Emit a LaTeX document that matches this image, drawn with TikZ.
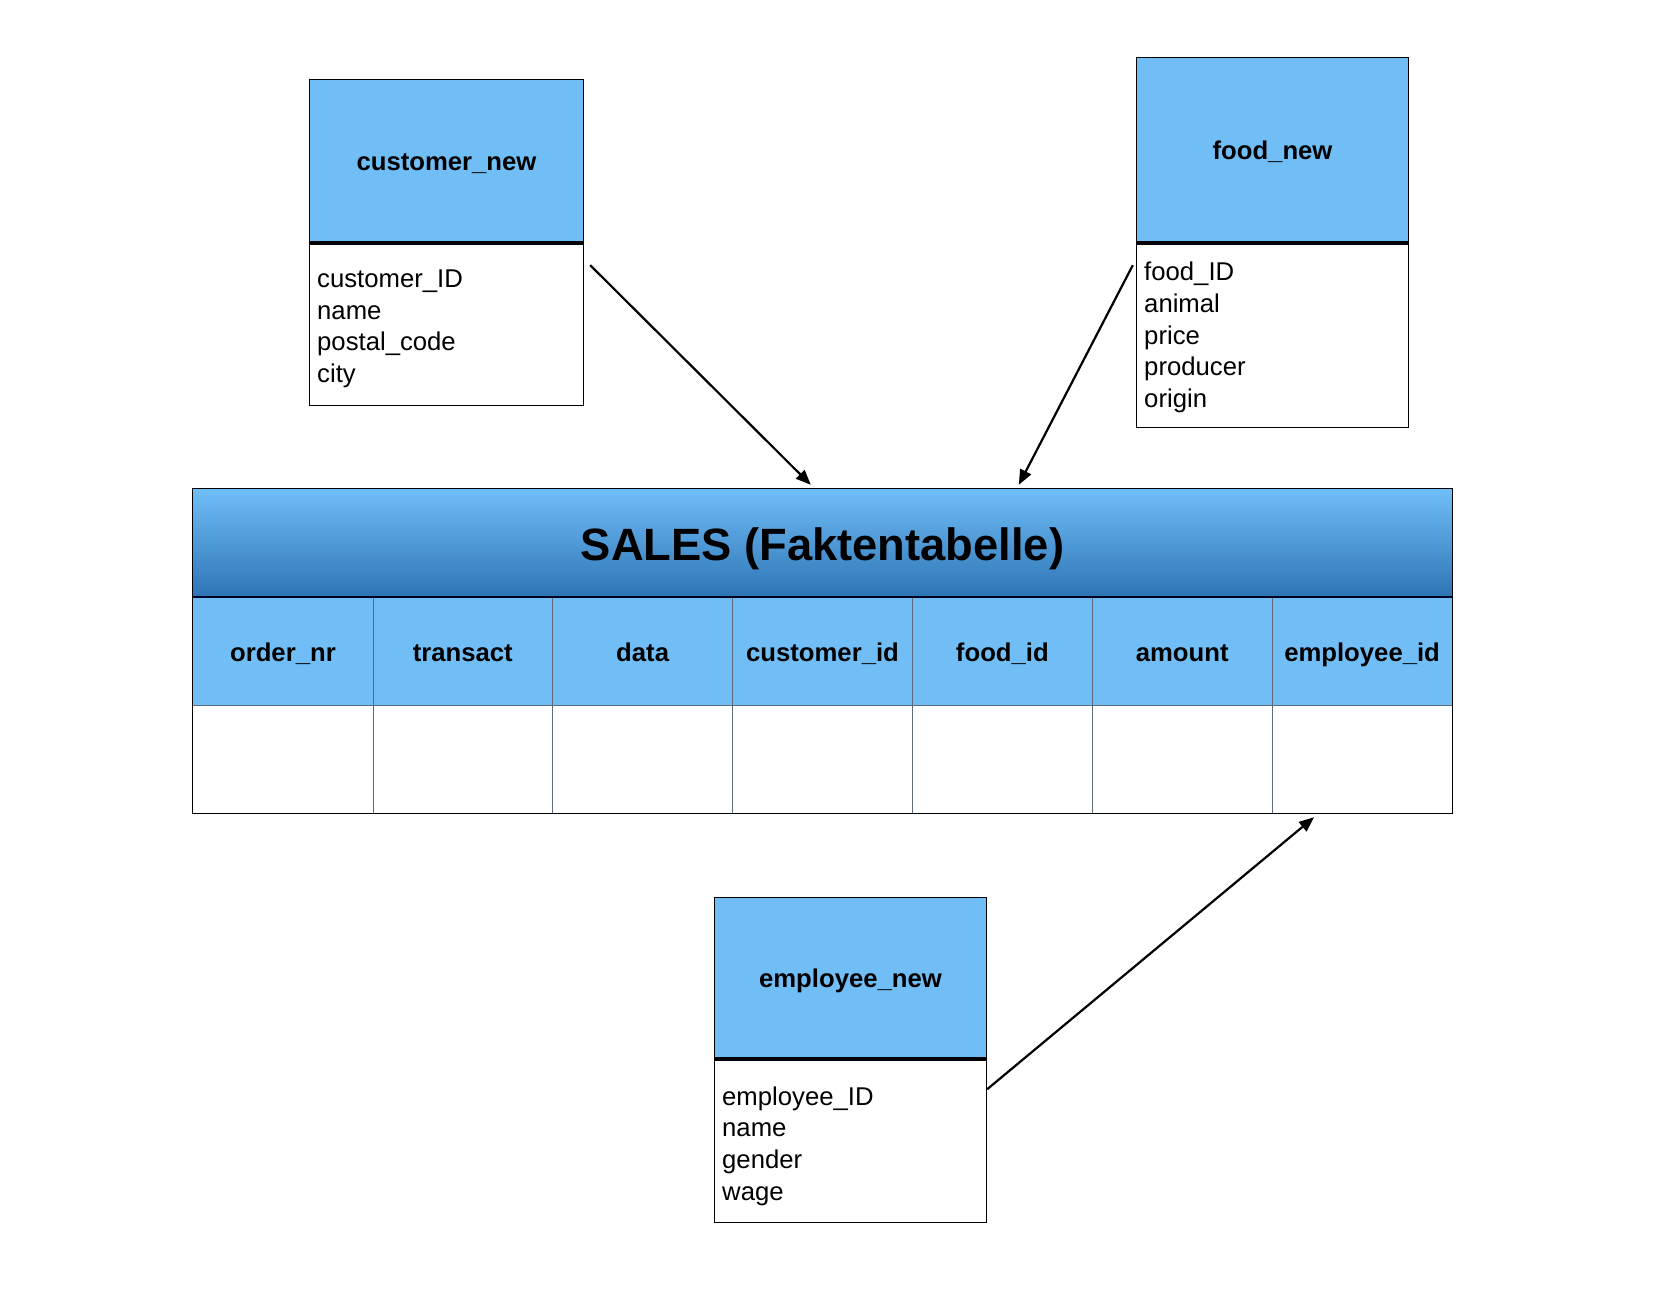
\documentclass[tikz,border=0pt]{standalone}
\usepackage{fontspec}
\setmainfont{Liberation Sans}
\usetikzlibrary{arrows.meta,calc}
\definecolor{lb}{HTML}{71BEF7}
\definecolor{gtop}{HTML}{70BEF7}
\definecolor{gbot}{HTML}{2E74B5}
\definecolor{divc}{HTML}{5B6B7C}
\tikzset{
  head/.style={fill=lb, inner sep=0pt, text height=18.5pt, text depth=0pt, font=\fontsize{25.7}{31.7}\selectfont\bfseries},
  body/.style={fill=white, inner sep=0pt},
  attr/.style={anchor=base west, inner sep=0pt, font=\fontsize{25.7}{31.7}\selectfont},
  frame/.style={draw=black, line width=1.3pt},
  sepline/.style={line width=4pt, draw=black},
  colhead/.style={fill=lb, inner sep=0pt, minimum width=179.86pt, minimum height=108pt, text height=21pt, text depth=0pt, font=\fontsize{25.7}{31.7}\selectfont\bfseries},
  colcell/.style={fill=white, inner sep=0pt, minimum width=179.86pt, minimum height=108pt},
  divline/.style={draw=divc, line width=1pt},
  conn/.style={line width=2.2pt, -{Triangle[length=15pt,width=12pt]}},
}
\begin{document}
\begin{tikzpicture}[x=1pt,y=-1pt]
\useasboundingbox (0,0) rectangle (1662,1308);

% customer_new
\node[head, minimum width=273pt, minimum height=163pt] (custhead) at (446.5,161.5) {customer\_new};
\node[body, minimum width=273pt, minimum height=162pt, anchor=north] (custbody) at (custhead.south) {};
\draw[frame] (custhead.north west) rectangle (custbody.south east);
\draw[sepline] (custhead.south west) -- (custhead.south east);
\node[attr] (c1) at (317,287.5) {customer\_ID};
\node[attr] (c2) at (317,319.2) {name};
\node[attr] (c3) at (317,350.9) {postal\_code};
\node[attr] (c4) at (317,382.5) {city};

% food_new
\node[head, minimum width=271pt, minimum height=185pt] (foodhead) at (1272.5,150.5) {food\_new};
\node[body, minimum width=271pt, minimum height=184pt, anchor=north] (foodbody) at (foodhead.south) {};
\draw[frame] (foodhead.north west) rectangle (foodbody.south east);
\draw[sepline] (foodhead.south west) -- (foodhead.south east);
\node[attr] (f1) at (1144,280.5) {food\_ID};
\node[attr] (f2) at (1144,312.25) {animal};
\node[attr] (f3) at (1144,344) {price};
\node[attr] (f4) at (1144,375.75) {producer};
\node[attr] (f5) at (1144,407.5) {origin};

% employee_new
\node[head, minimum width=271pt, minimum height=161pt] (emphead) at (850.5,978.5) {employee\_new};
\node[body, minimum width=271pt, minimum height=163pt, anchor=north] (empbody) at (emphead.south) {};
\draw[frame] (emphead.north west) rectangle (empbody.south east);
\draw[sepline] (emphead.south west) -- (emphead.south east);
\node[attr] (e1) at (722,1105) {employee\_ID};
\node[attr] (e2) at (722,1136.7) {name};
\node[attr] (e3) at (722,1168.4) {gender};
\node[attr] (e4) at (722,1200) {wage};

% SALES table
\node[inner sep=0pt, minimum width=1259pt, minimum height=108pt, top color=gtop, bottom color=gbot,
      text height=34pt, text depth=0pt,
      font=\fontsize{45.3}{54}\selectfont\bfseries] (title) at (822.5,543) {SALES (Faktentabelle)};
\foreach \i/\t in {1/order\_nr,2/transact,3/data,4/customer\_id,5/food\_id,6/amount,7/employee\_id}{
  \node[colhead] (h\i) at ({193+179.86*(\i-0.5)},651) {\t};
  \node[colcell] (r\i) at ({193+179.86*(\i-0.5)},759) {};
}
\foreach \i in {1,...,6}{
  \draw[divline] (h\i.north east) -- (r\i.south east);
}
\draw[divline] (h1.south west) -- (h7.south east);
\draw[line width=1.5pt, draw=black!85!blue] (title.south west) -- (title.south east);
\draw[frame] (title.north west) rectangle (r7.south east);

% connectors
\coordinate (a1s) at ($(custbody.north east)+(7,22)$);
\coordinate (a1e) at ($(title.north west)+(618,-4)$);
\coordinate (a2s) at ($(foodbody.north west)+(-4,22)$);
\coordinate (a2e) at ($(title.north west)+(826,-4)$);
\coordinate (a3s) at ($(empbody.north east)+(1,30)$);
\coordinate (a3e) at ($(r7.south)+(-48,4)$);
\draw[conn] (a1s) -- (a1e);
\draw[conn] (a2s) -- (a2e);
\draw[conn] (a3s) -- (a3e);
\end{tikzpicture}
\end{document}
